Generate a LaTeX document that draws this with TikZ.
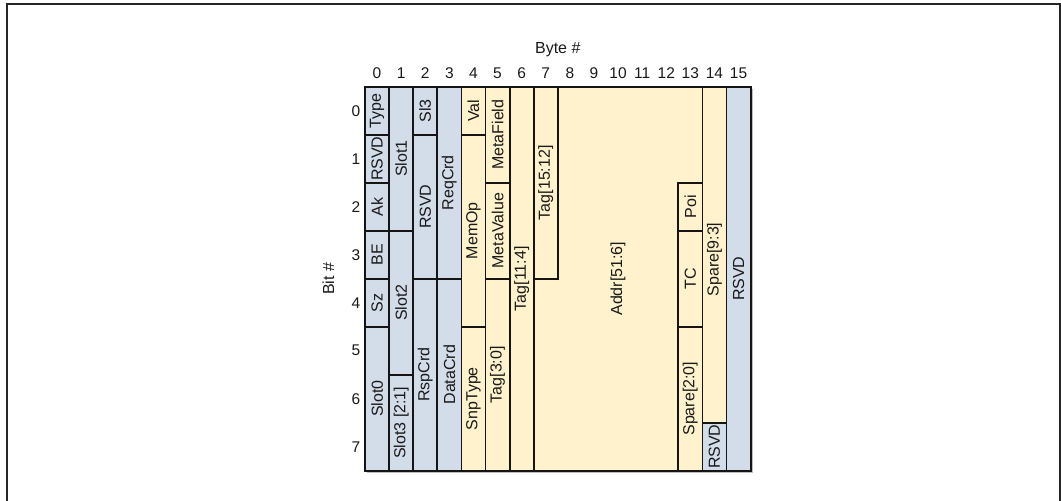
\documentclass[tikz,border=0pt]{standalone}
\usepackage{fontspec}
\setmainfont{Liberation Sans}
\definecolor{fblue}{HTML}{D3DCE9}
\definecolor{fyel}{HTML}{FFF2CC}
\definecolor{fline}{HTML}{151515}
\newcommand\fieldbox[7]{%
  \draw[#2] (#3,#4) rectangle (#5,#6);
  \node[flabel] (#1) at ({(#3+#5)/2},{(#4+#6)/2}) {#7};}
\begin{document}
\begin{tikzpicture}[x=1pt,y=-1pt,
  fieldline/.style={draw=fline,line width=1.8pt,line join=miter},
  bluef/.style={fieldline,fill=fblue},
  yelf/.style={fieldline,fill=fyel},
  flabel/.style={rotate=90,font=\fontsize{16}{18}\selectfont,inner sep=0pt,text=black!90},
  numlabel/.style={font=\fontsize{15.5}{18}\selectfont,inner sep=0pt,text=black!90},
]
\useasboundingbox (0,0) rectangle (1061,501);
\draw[line width=1.5pt,color=black!85] (7,501) -- (7,4) -- (1060,4) -- (1060,501);
% shadow
\fill[black!25] (367,88.7) rectangle (752.6,472.7);
% headings
\node[numlabel,font=\fontsize{16}{18}\selectfont] (byte) at (557.8,50) {Byte \#};
\node[numlabel,font=\fontsize{16}{18}\selectfont,rotate=90] (bit) at (328.3,278.7) {Bit \#};
\foreach \i in {0,...,15}{
  \node[numlabel] (col\i) at ({365+24.1*(\i+0.5)},73.3) {\i};}
\foreach \r in {0,...,7}{
  \node[numlabel] (row\r) at (356,{86.7+48*(\r+0.5)}) {\r};}
\begin{scope}[xshift=365pt,yshift=-86.7pt,x=24.1pt,y=-48pt]
  % byte 0
  \fieldbox{type}{bluef}{0}{0}{1}{1}{Type}
  \fieldbox{rsvda}{bluef}{0}{1}{1}{2}{RSVD}
  \fieldbox{ak}{bluef}{0}{2}{1}{3}{Ak}
  \fieldbox{be}{bluef}{0}{3}{1}{4}{BE}
  \fieldbox{sz}{bluef}{0}{4}{1}{5}{Sz}
  \fieldbox{slot0}{bluef}{0}{5}{1}{8}{Slot0}
  % byte 1
  \fieldbox{slot1}{bluef}{1}{0}{2}{3}{Slot1}
  \fieldbox{slot2}{bluef}{1}{3}{2}{6}{Slot2}
  \fieldbox{slot3}{bluef}{1}{6}{2}{8}{Slot3 [2:1]}
  % byte 2
  \fieldbox{sl3}{bluef}{2}{0}{3}{1}{Sl3}
  \fieldbox{rsvdb}{bluef}{2}{1}{3}{4}{RSVD}
  \fieldbox{rspcrd}{bluef}{2}{4}{3}{8}{RspCrd}
  % byte 3
  \fieldbox{reqcrd}{bluef}{3}{0}{4}{4}{ReqCrd}
  \fieldbox{datacrd}{bluef}{3}{4}{4}{8}{DataCrd}
  % byte 4
  \fieldbox{val}{yelf}{4}{0}{5}{1}{Val}
  \fieldbox{memop}{yelf}{4}{1}{5}{5}{MemOp}
  \fieldbox{snptype}{yelf}{4}{5}{5}{8}{SnpType}
  % byte 5
  \fieldbox{metafield}{yelf}{5}{0}{6}{2}{MetaField}
  \fieldbox{metavalue}{yelf}{5}{2}{6}{4}{MetaValue}
  \fieldbox{tagc}{yelf}{5}{4}{6}{8}{Tag[3:0]}
  % byte 6, 7
  \fieldbox{tagb}{yelf}{6}{0}{7}{8}{Tag[11:4]}
  \fieldbox{taga}{yelf}{7}{0}{8}{4}{Tag[15:12]}
  % address
  \draw[yelf] (7,4) -- (8,4) -- (8,0) -- (14,0) -- (14,2) -- (13,2) -- (13,8) -- (7,8) -- cycle;
  \node[flabel] (addr) at (10.5,4) {Addr[51:6]};
  % byte 13
  \fieldbox{poi}{yelf}{13}{2}{14}{3}{Poi}
  \fieldbox{tc}{yelf}{13}{3}{14}{5}{TC}
  \fieldbox{spareb}{yelf}{13}{5}{14}{8}{Spare[2:0]}
  % byte 14
  \draw[yelf] (14,0) rectangle (15,7);
  \node[flabel] (sparea) at (14.5,3.6) {Spare[9:3]};
  \fieldbox{rsvdc}{bluef}{14}{7}{15}{8}{RSVD}
  % byte 15
  \fieldbox{rsvdd}{bluef}{15}{0}{16}{8}{RSVD}
\end{scope}
\end{tikzpicture}
\end{document}
